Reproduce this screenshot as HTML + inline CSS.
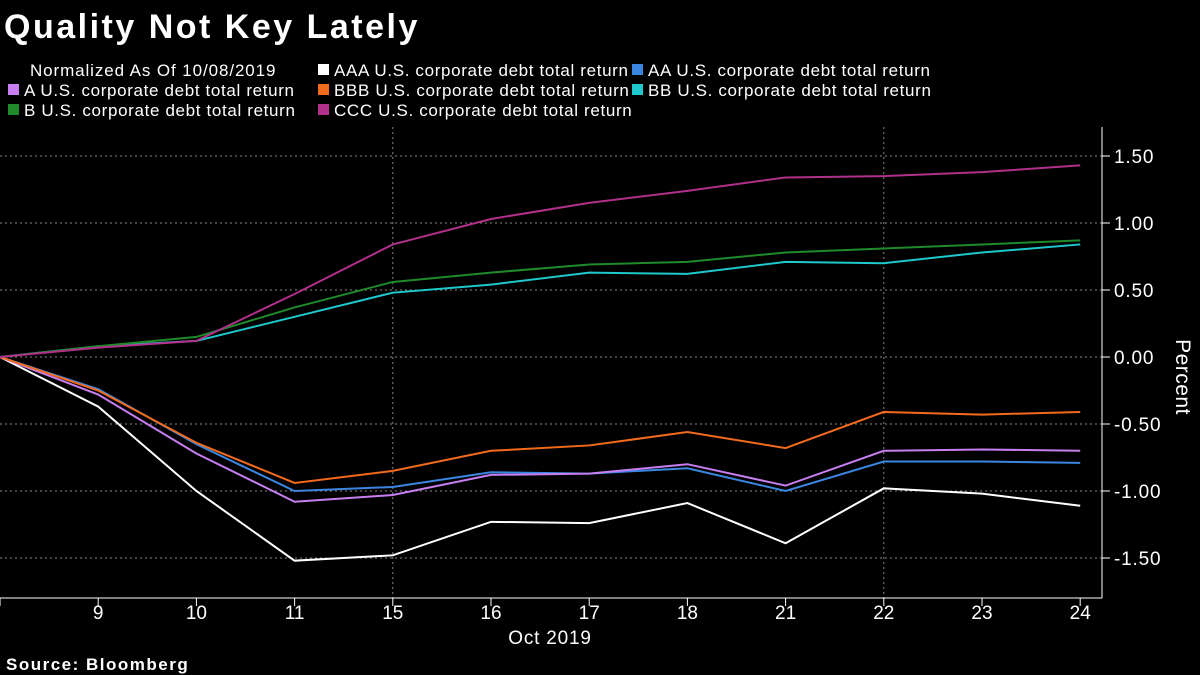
<!DOCTYPE html>
<html><head><meta charset="utf-8"><style>
body{margin:0;background:#000;width:1200px;height:675px;overflow:hidden;font-family:"Liberation Sans",sans-serif}
svg{display:block}
</style></head><body>
<svg id="chart" width="1200" height="675">
<text x="4" y="38" fill="#fff" font-size="34" font-weight="bold" letter-spacing="2.5">Quality Not Key Lately</text>
<text x="30" y="76" fill="#fff" font-size="17" letter-spacing="0.9">Normalized As Of 10/08/2019</text>
<g id="legend"></g>
<g id="grid"></g>
<g id="axes"></g>
<g id="series"></g>
<text x="0" y="0" transform="translate(1176,377) rotate(90)" text-anchor="middle" fill="#fff" font-size="21" letter-spacing="0.5">Percent</text>
<text x="550" y="644" text-anchor="middle" fill="#fff" font-size="19" letter-spacing="0.8">Oct 2019</text>
<text x="6" y="670" fill="#fff" font-size="17" font-weight="bold" letter-spacing="1.5">Source:  Bloomberg</text>
</svg>
<script>
const categories=["8","9","10","11","15","16","17","18","21","22","23","24"];
const yTicks=[1.5,1.0,0.5,0,-0.5,-1.0,-1.5];
const seriesNames=["AAA","AA","A","BBB","BB","B","CCC"];
const seriesColors=["#ffffff","#3a86e0","#c77ef0","#f26b1d","#1ec8cc","#1f8a2a","#b0308a"];
const aaa=[0,-0.37,-1.00,-1.52,-1.48,-1.23,-1.24,-1.09,-1.39,-0.98,-1.02,-1.11];
const aa=[0,-0.24,-0.65,-1.00,-0.97,-0.86,-0.87,-0.83,-1.00,-0.78,-0.78,-0.79];
const a=[0,-0.28,-0.72,-1.08,-1.03,-0.88,-0.87,-0.80,-0.96,-0.70,-0.69,-0.70];
const bbb=[0,-0.25,-0.64,-0.94,-0.85,-0.70,-0.66,-0.56,-0.68,-0.41,-0.43,-0.41];
const bb=[0,0.08,0.12,0.30,0.48,0.54,0.63,0.62,0.71,0.70,0.78,0.84];
const b=[0,0.08,0.15,0.37,0.56,0.63,0.69,0.71,0.78,0.81,0.84,0.87];
const ccc=[0,0.07,0.12,0.47,0.84,1.03,1.15,1.24,1.34,1.35,1.38,1.43];
const allSeries=[aaa,aa,a,bbb,bb,b,ccc];
const NS="http://www.w3.org/2000/svg";
const X0=0,DX=98.2,Y0=357,KY=134,RIGHT=1102,TOP=127,BOT=598;
const xs=i=>X0+i*DX, ys=v=>Y0-v*KY;
function mk(t,at,p){const e=document.createElementNS(NS,t);for(const k in at)e.setAttribute(k,at[k]);p.appendChild(e);return e;}
const grid=document.getElementById('grid'),axes=document.getElementById('axes'),ser=document.getElementById('series'),leg=document.getElementById('legend');
yTicks.forEach(v=>{
 const g=mk('line',{x1:0,x2:RIGHT,y1:ys(v),y2:ys(v),stroke:'#888','stroke-dasharray':'2,3','stroke-width':1},grid);
 
 
 const tk=mk('line',{x1:RIGHT,x2:RIGHT+8,y1:ys(v),y2:ys(v),stroke:'#fff'},axes);
 
 
 const t=mk('text',{x:RIGHT+12,y:ys(v)+7,fill:'#fff','font-size':19,'letter-spacing':0.8},axes);
 t.textContent=(v<0?'-':'')+Math.abs(v).toFixed(2);
 
 
});
[4,9].forEach(i=>{
 const g=mk('line',{x1:xs(i),x2:xs(i),y1:TOP,y2:BOT,stroke:'#888','stroke-dasharray':'2,3'},grid);
 
 
});
let l=mk('line',{x1:RIGHT,x2:RIGHT,y1:TOP,y2:BOT,stroke:'#fff'},axes);


l=mk('line',{x1:0,x2:RIGHT,y1:BOT,y2:BOT,stroke:'#fff'},axes);


categories.forEach((c,i)=>{
 const tk=mk('line',{x1:xs(i),x2:xs(i),y1:BOT,y2:BOT+8,stroke:'#fff'},axes);
 
 
 if(i>0){const t=mk('text',{x:xs(i),y:619,fill:'#fff','font-size':19,'text-anchor':'middle'},axes);
 t.textContent=c;
 
 }
});
allSeries.forEach((d,si)=>{
 const p=mk('polyline',{points:d.map((v,i)=>xs(i)+','+ys(v)).join(' '),fill:'none',stroke:seriesColors[si],'stroke-width':2},ser);
 
 
});
const legPos=[[318,75],[632,75],[8,95],[318,95],[632,95],[8,115],[318,115]];
seriesNames.forEach((n,i)=>{
 const [x,y]=legPos[i];
 const r=mk('rect',{x:x,y:y-11,width:11,height:11,fill:seriesColors[i]},leg);
 
 
 const t=mk('text',{x:x+16,y:y+1,fill:'#fff','font-size':17,'letter-spacing':0.65},leg);
 t.textContent=n+' U.S. corporate debt total return';
 
 
});
</script>
</body></html>
